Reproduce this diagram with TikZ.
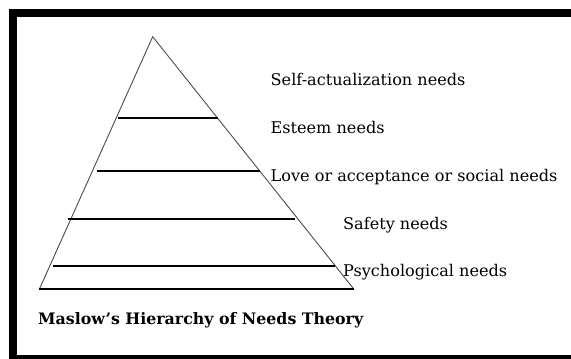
\documentclass[tikz,border=0pt]{standalone}
\usepackage{fontspec}
\setmainfont{DejaVu Serif}
\usepackage{tikz}
\usetikzlibrary{calc,positioning}

\begin{document}
\begin{tikzpicture}[x=1pt, y=-1pt,
  side/.style={draw=black!70, line width=0.9pt},
  level/.style={draw=black, line width=1.8pt},
  need/.style={anchor=base west, inner sep=0pt, font=\fontsize{16.1}{18}\selectfont},
  ttl/.style={anchor=base west, inner sep=0pt, font=\fontsize{15.8}{18}\bfseries}]
\useasboundingbox (0,0) rectangle (571,359);
\clip (0,0) rectangle (571,359);
\fill[white] (0,0) rectangle (571,359);
\draw[line width=8pt] (600,13) -- (13,13) -- (13,358.5) -- (600,358.5);

% pyramid
\coordinate (top) at (152.7,36.7);
\coordinate (bl) at (39.3,289.3);
\coordinate (br) at (354,289.3);
\draw[side] (bl) -- (top) -- (br);
\draw[level] (bl) -- (br);

% levels
\coordinate (a1) at (118,118.3); \coordinate (b1) at (218,118.3);
\coordinate (a2) at (97,170.7);  \coordinate (b2) at (260,170.7);
\coordinate (a3) at (68,219);    \coordinate (b3) at (295,219);
\coordinate (a4) at (53,266);    \coordinate (b4) at (335,266);
\draw[level] (a1) -- (b1);
\draw[level] (a2) -- (b2);
\draw[level] (a3) -- (b3);
\draw[level] (a4) -- (b4);

% labels
\node[need] (self) at (270.5,85.5) {Self-actualization needs};
\node[need] (esteem) at (270.5,133) {Esteem needs};
\node[need] (love) at (270.5,181) {Love or acceptance or social needs};
\node[need] (safety) at (343,229) {Safety needs};
\node[need] (psych) at (343,276.5) {Psychological needs};
\node[ttl] (title) at (38,324) {Maslow’s Hierarchy of Needs Theory};
\end{tikzpicture}
\end{document}
